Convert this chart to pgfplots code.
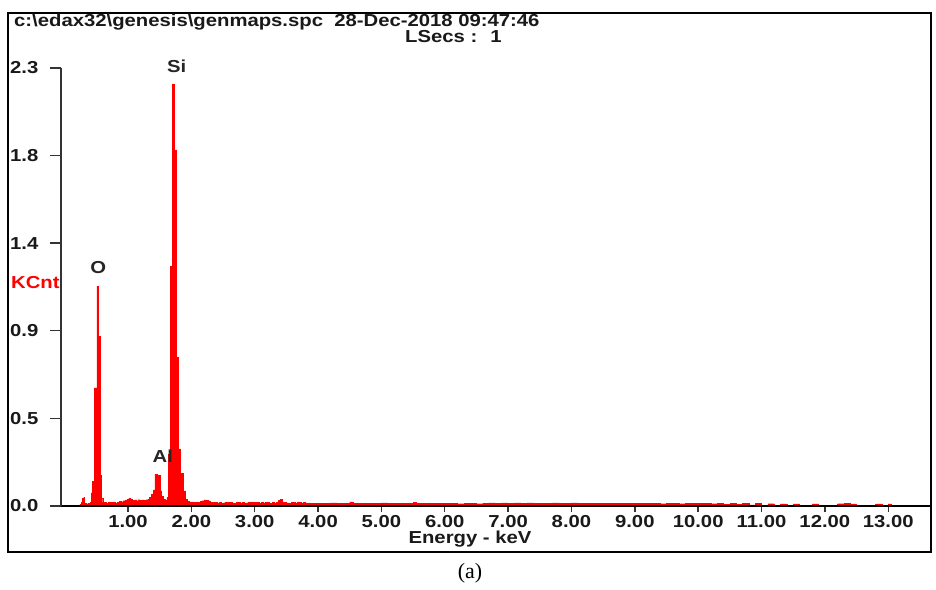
\documentclass[border=0pt]{standalone}
\usepackage{fontspec}
\setmainfont{Liberation Sans}[FakeStretch=1.17]
\newfontfamily\serif{Liberation Serif}
\usepackage{pgfplots}
\pgfplotsset{compat=1.18}
\pgfplotstableread{
x y
0.20 0.000
0.22 0.005
0.24 0.010
0.26 0.020
0.28 0.040
0.30 0.045
0.31 0.015
0.34 0.012
0.37 0.015
0.40 0.020
0.42 0.070
0.44 0.130
0.465 0.620
0.51 1.155
0.527 0.890
0.557 0.160
0.58 0.040
0.60 0.020
0.62 0.018
0.65 0.015
0.68 0.020
0.71 0.016
0.74 0.018
0.77 0.022
0.80 0.017
0.83 0.020
0.86 0.025
0.89 0.022
0.92 0.028
0.95 0.030
0.98 0.035
1.01 0.040
1.04 0.038
1.07 0.030
1.10 0.032
1.13 0.028
1.16 0.033
1.19 0.030
1.22 0.032
1.25 0.031
1.28 0.033
1.31 0.035
1.34 0.045
1.37 0.060
1.40 0.085
1.425 0.168
1.46 0.160
1.505 0.080
1.53 0.050
1.56 0.035
1.59 0.030
1.615 0.045
1.636 0.270
1.668 1.260
1.700 2.216
1.725 1.870
1.765 0.780
1.795 0.300
1.830 0.170
1.865 0.080
1.90 0.035
1.93 0.025
1.96 0.020
1.99 0.022
2.02 0.018
2.05 0.020
2.08 0.022
2.11 0.020
2.14 0.025
2.17 0.028
2.20 0.032
2.23 0.030
2.26 0.028
2.29 0.022
2.32 0.020
2.35 0.018
2.38 0.020
2.41 0.016
2.44 0.018
2.47 0.015
2.50 0.017
2.53 0.020
2.56 0.018
2.59 0.016
2.62 0.020
2.65 0.017
2.68 0.015
2.71 0.018
2.74 0.020
2.77 0.016
2.80 0.018
2.83 0.015
2.86 0.017
2.89 0.020
2.92 0.018
2.95 0.022
2.98 0.020
3.01 0.018
3.04 0.020
3.07 0.017
3.10 0.019
3.13 0.016
3.16 0.018
3.19 0.020
3.22 0.017
3.25 0.015
3.28 0.018
3.31 0.016
3.34 0.020
3.37 0.030
3.40 0.036
3.43 0.022
3.46 0.018
3.49 0.016
3.52 0.017
3.55 0.015
3.58 0.018
3.61 0.020
3.64 0.016
3.67 0.022
3.70 0.018
3.73 0.015
3.76 0.020
3.79 0.016
3.82 0.015
3.85 0.016
3.88 0.014
3.91 0.015
3.94 0.014
3.97 0.015
4.00 0.015
4.10 0.013
4.20 0.016
4.30 0.014
4.40 0.015
4.50 0.021
4.55 0.014
4.70 0.013
4.80 0.015
4.90 0.014
5.00 0.016
5.10 0.013
5.20 0.014
5.30 0.015
5.40 0.013
5.50 0.019
5.55 0.014
5.70 0.013
5.80 0.014
5.90 0.015
6.00 0.013
6.10 0.014
6.20 0.012
6.30 0.013
6.40 0.014
6.50 0.012
6.60 0.015
6.70 0.016
6.80 0.015
6.90 0.016
7.00 0.015
7.10 0.016
7.20 0.014
7.30 0.016
7.40 0.015
7.50 0.014
7.60 0.015
7.70 0.017
7.80 0.014
7.90 0.015
8.00 0.016
8.10 0.014
8.20 0.015
8.30 0.013
8.40 0.015
8.50 0.014
8.60 0.013
8.70 0.015
8.80 0.013
8.90 0.014
9.00 0.013
9.10 0.015
9.20 0.013
9.30 0.014
9.40 0.012
9.50 0.013
9.60 0.014
9.70 0.012
9.80 0.013
9.90 0.015
10.00 0.013
10.10 0.014
10.20 0.012
10.30 0.015
10.40 0.010
10.50 0.013
10.60 0.008
10.70 0.013
10.80 0.006
10.90 0.013
11.00 0.004
11.10 0.012
11.20 0.003
11.30 0.011
11.40 0.002
11.50 0.011
11.60 0.002
11.80 0.011
11.90 0.002
12.20 0.012
12.30 0.013
12.40 0.011
12.50 0.002
12.80 0.011
12.90 0.002
13.00 0.011
13.05 0.000
}\spectrum
\begin{document}
\begin{tikzpicture}[x=1bp,y=1bp]
\useasboundingbox (0,0) rectangle (936,590);
\draw[line width=2.5bp] (8,38) rectangle (931,577);
\begin{axis}[
  at={(61bp,84bp)}, anchor=south west,
  scale only axis, width=869bp, height=438bp,
  xmin=-0.058, xmax=13.66, ymin=0, ymax=2.3,
  axis on top, clip=false,
  axis x line*=bottom, axis y line*=left,
  x axis line style={line width=2bp,-},
  y axis line style={line width=1.4bp,black!80,-},
  xtick={1,2,3,4,5,6,7,8,9,10,11,12,13},
  xticklabels={1.00,2.00,3.00,4.00,5.00,6.00,7.00,8.00,9.00,10.00,11.00,12.00,13.00},
  ytick={0,0.46,0.92,1.38,1.84,2.3},
  yticklabels={0.0,0.5,0.9,1.4,1.8,2.3},
  tick align=outside,
  major tick length=11bp,
  x tick style={line width=1.4bp,black!80,/pgfplots/major tick length=6bp},
  y tick style={line width=1.4bp,black!80},
  /pgf/number format/assume math mode=true,
  tick label style={font=\fontsize{17.4}{20}\selectfont\bfseries, text=black!90},
  xticklabel style={inner sep=0pt, anchor=north, yshift=1.5bp},
  yticklabel style={inner sep=0pt, anchor=west, xshift=-40bp},
]
\addplot[const plot, fill=red, draw=red, line width=0.3bp] table[x=x,y=y] {\spectrum} \closedcycle;
\node[font=\fontsize{17.4}{20}\selectfont\bfseries, text=black!85] at (axis cs:0.53,1.25) {O};
\node[font=\fontsize{17.4}{20}\selectfont\bfseries, text=black!85] at (axis cs:1.77,2.31) {Si};
\node[font=\fontsize{17.4}{20}\selectfont\bfseries, text=black!85] at (axis cs:1.55,0.263) {Al};
\end{axis}
\begin{scope}[font=\fontsize{17.4}{20}\selectfont\bfseries]
\node[anchor=base west, inner sep=0pt, text=black!90] at (14,563) {c:\textbackslash edax32\textbackslash genesis\textbackslash genmaps.spc\ \ 28-Dec-2018 09:47:46};
\node[anchor=base west, inner sep=0pt, text=black!90] at (405,547) {LSecs : \ 1};
\node[anchor=west, inner sep=0pt, text=red] at (11,307) {KCnt};
\node[inner sep=0pt, text=black!90] at (470,51) {Energy - keV};
\end{scope}
\node[inner sep=0pt, font=\fontsize{22}{25}\selectfont\serif] at (470,17) {(a)};
\end{tikzpicture}
\end{document}
